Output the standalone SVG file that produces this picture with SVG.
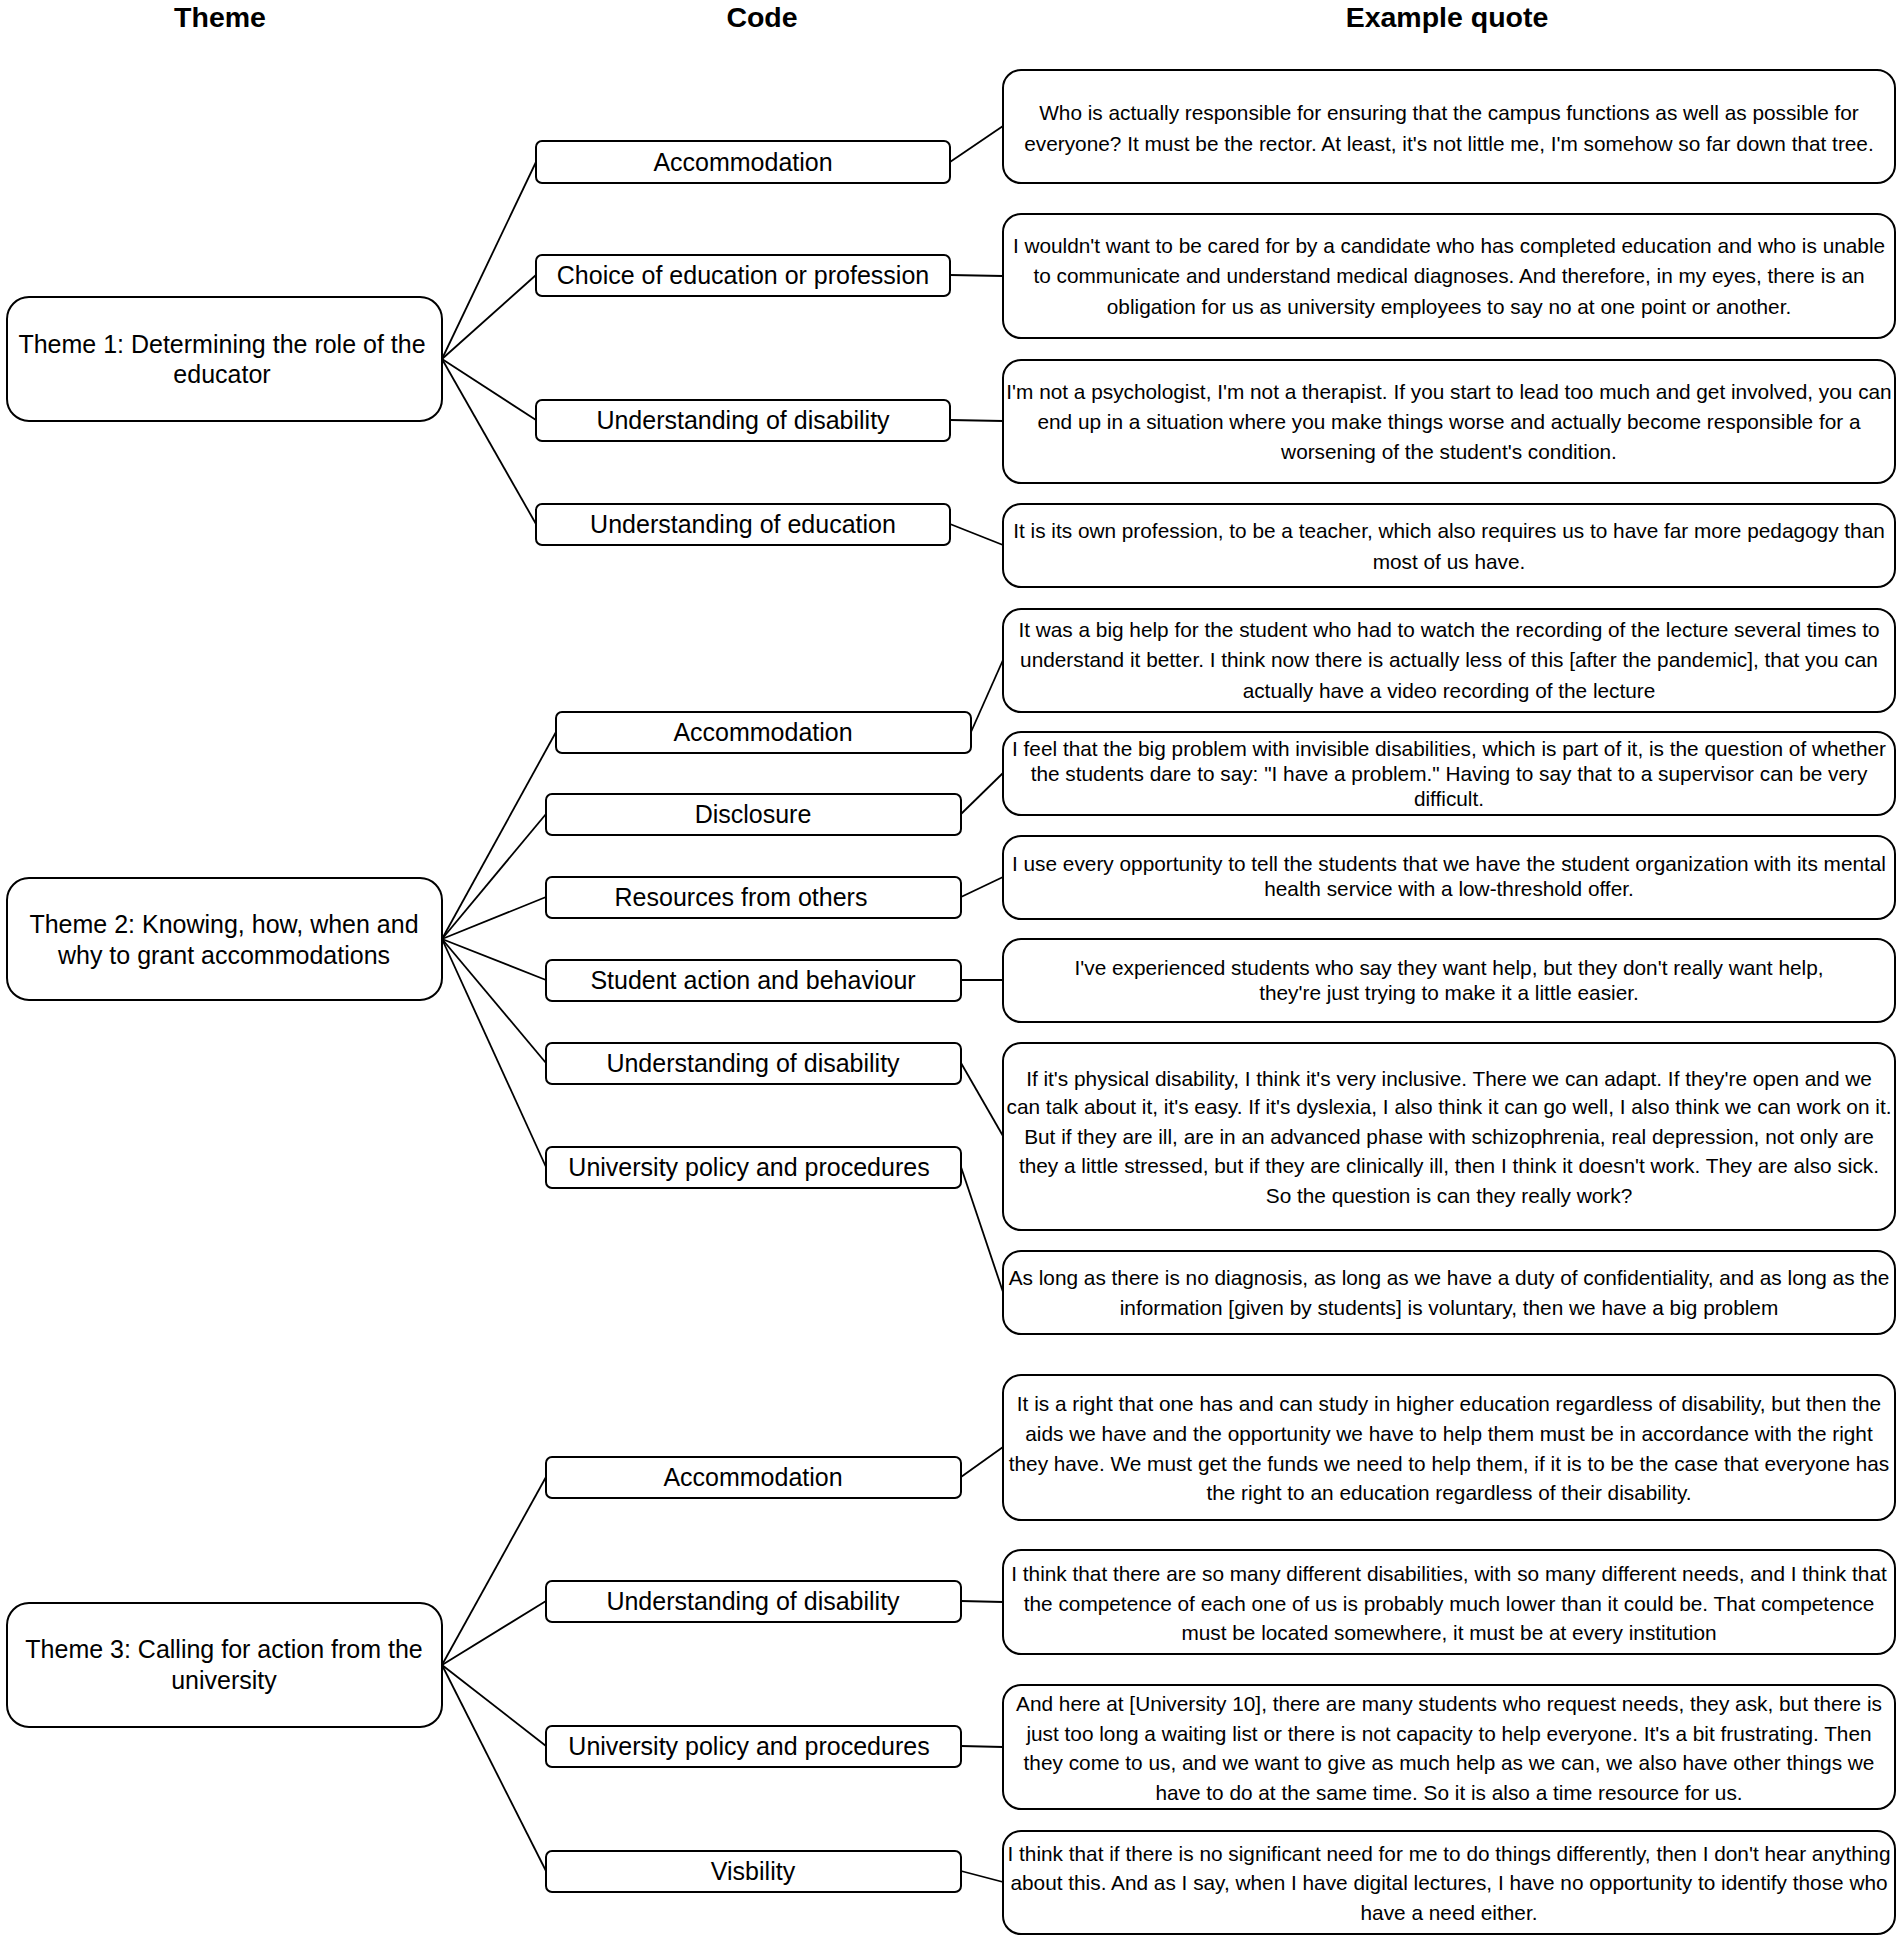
<svg xmlns="http://www.w3.org/2000/svg" width="1902" height="1943" viewBox="0 0 1902 1943">
<style>
text{font-family:"Liberation Sans",Arial,sans-serif;fill:#000;text-anchor:middle}
.hdr{font-size:28.5px;font-weight:bold}
.t{font-size:25px}
.c{font-size:25px}
.q{font-size:20.8px}
.tb{fill:#fff;stroke:#000;stroke-width:2}
.cb{fill:#fff;stroke:#000;stroke-width:2}
.qb{fill:#fff;stroke:#000;stroke-width:2}
.ln{stroke:#000;stroke-width:1.8;fill:none}
</style>
<rect width="1902" height="1943" fill="#fff"/>
<g id="headers">
<text class="hdr" x="220" y="27">Theme</text>
<text class="hdr" x="762" y="27">Code</text>
<text class="hdr" x="1447" y="27">Example quote</text>
</g>
<g id="connectors">
<line class="ln" x1="442" y1="359" x2="536" y2="162"/>
<line class="ln" x1="442" y1="359" x2="536" y2="275"/>
<line class="ln" x1="442" y1="359" x2="536" y2="420"/>
<line class="ln" x1="442" y1="359" x2="536" y2="524"/>
<line class="ln" x1="950" y1="162" x2="1003" y2="126"/>
<line class="ln" x1="950" y1="275" x2="1003" y2="276"/>
<line class="ln" x1="950" y1="420" x2="1003" y2="421"/>
<line class="ln" x1="950" y1="524" x2="1003" y2="545"/>
<line class="ln" x1="442" y1="939" x2="556" y2="732"/>
<line class="ln" x1="442" y1="939" x2="546" y2="814"/>
<line class="ln" x1="442" y1="939" x2="546" y2="897"/>
<line class="ln" x1="442" y1="939" x2="546" y2="980"/>
<line class="ln" x1="442" y1="939" x2="546" y2="1063"/>
<line class="ln" x1="442" y1="939" x2="546" y2="1167"/>
<line class="ln" x1="971" y1="732" x2="1003" y2="660"/>
<line class="ln" x1="961" y1="814" x2="1003" y2="773"/>
<line class="ln" x1="961" y1="897" x2="1003" y2="877"/>
<line class="ln" x1="961" y1="980" x2="1003" y2="980"/>
<line class="ln" x1="961" y1="1063" x2="1003" y2="1136"/>
<line class="ln" x1="961" y1="1167" x2="1003" y2="1292"/>
<line class="ln" x1="442" y1="1665" x2="546" y2="1477"/>
<line class="ln" x1="442" y1="1665" x2="546" y2="1601"/>
<line class="ln" x1="442" y1="1665" x2="546" y2="1746"/>
<line class="ln" x1="442" y1="1665" x2="546" y2="1871"/>
<line class="ln" x1="961" y1="1477" x2="1003" y2="1447"/>
<line class="ln" x1="961" y1="1601" x2="1003" y2="1602"/>
<line class="ln" x1="961" y1="1746" x2="1003" y2="1747"/>
<line class="ln" x1="961" y1="1871" x2="1003" y2="1882"/>
</g>
<g id="theme1"><rect class="tb" x="7" y="297" width="435" height="124" rx="22"/>
<text class="t" x="222" y="353">Theme 1: Determining the role of the</text>
<text class="t" x="222" y="383">educator</text></g>
<g id="theme2"><rect class="tb" x="7" y="878" width="435" height="122" rx="22"/>
<text class="t" x="224" y="933">Theme 2: Knowing, how, when and</text>
<text class="t" x="224" y="964">why to grant accommodations</text></g>
<g id="theme3"><rect class="tb" x="7" y="1603" width="435" height="124" rx="22"/>
<text class="t" x="224" y="1658">Theme 3: Calling for action from the</text>
<text class="t" x="224" y="1689">university</text></g>

<g id="code1a"><rect class="cb" x="536" y="141" width="414" height="42" rx="6"/><text class="c" x="743" y="171">Accommodation</text></g>
<g id="code1b"><rect class="cb" x="536" y="255" width="414" height="41" rx="6"/><text class="c" x="743" y="284">Choice of education or profession</text></g>
<g id="code1c"><rect class="cb" x="536" y="400" width="414" height="41" rx="6"/><text class="c" x="743" y="429">Understanding of disability</text></g>
<g id="code1d"><rect class="cb" x="536" y="504" width="414" height="41" rx="6"/><text class="c" x="743" y="533">Understanding of education</text></g>

<g id="code2a"><rect class="cb" x="556" y="712" width="415" height="41" rx="6"/><text class="c" x="763" y="741">Accommodation</text></g>
<g id="code2b"><rect class="cb" x="546" y="794" width="415" height="41" rx="6"/><text class="c" x="753" y="823">Disclosure</text></g>
<g id="code2c"><rect class="cb" x="546" y="877" width="415" height="41" rx="6"/><text class="c" x="741" y="906">Resources from others</text></g>
<g id="code2d"><rect class="cb" x="546" y="960" width="415" height="41" rx="6"/><text class="c" x="753" y="989">Student action and behaviour</text></g>
<g id="code2e"><rect class="cb" x="546" y="1043" width="415" height="41" rx="6"/><text class="c" x="753" y="1072">Understanding of disability</text></g>
<g id="code2f"><rect class="cb" x="546" y="1147" width="415" height="41" rx="6"/><text class="c" x="749" y="1176">University policy and procedures</text></g>

<g id="code3a"><rect class="cb" x="546" y="1457" width="415" height="41" rx="6"/><text class="c" x="753" y="1486">Accommodation</text></g>
<g id="code3b"><rect class="cb" x="546" y="1581" width="415" height="41" rx="6"/><text class="c" x="753" y="1610">Understanding of disability</text></g>
<g id="code3c"><rect class="cb" x="546" y="1726" width="415" height="41" rx="6"/><text class="c" x="749" y="1755">University policy and procedures</text></g>
<g id="code3d"><rect class="cb" x="546" y="1851" width="415" height="41" rx="6"/><text class="c" x="753" y="1880">Visbility</text></g>

<g id="q1"><rect class="qb" x="1003" y="70" width="892" height="113" rx="18"/>
<text class="q"><tspan x="1449" y="120">Who is actually responsible for ensuring that the campus functions as well as possible for</tspan><tspan x="1449" y="151">everyone? It must be the rector. At least, it's not little me, I'm somehow so far down that tree.</tspan></text></g>
<g id="q2"><rect class="qb" x="1003" y="214" width="892" height="124" rx="18"/>
<text class="q"><tspan x="1449" y="253">I wouldn't want to be cared for by a candidate who has completed education and who is unable</tspan><tspan x="1449" y="283">to communicate and understand medical diagnoses. And therefore, in my eyes, there is an</tspan><tspan x="1449" y="314">obligation for us as university employees to say no at one point or another.</tspan></text></g>
<g id="q3"><rect class="qb" x="1003" y="360" width="892" height="123" rx="18"/>
<text class="q"><tspan x="1449" y="399">I'm not a psychologist, I'm not a therapist. If you start to lead too much and get involved, you can</tspan><tspan x="1449" y="429">end up in a situation where you make things worse and actually become responsible for a</tspan><tspan x="1449" y="459">worsening of the student's condition.</tspan></text></g>
<g id="q4"><rect class="qb" x="1003" y="504" width="892" height="83" rx="18"/>
<text class="q"><tspan x="1449" y="538">It is its own profession, to be a teacher, which also requires us to have far more pedagogy than</tspan><tspan x="1449" y="569">most of us have.</tspan></text></g>
<g id="q5"><rect class="qb" x="1003" y="609" width="892" height="103" rx="18"/>
<text class="q"><tspan x="1449" y="637">It was a big help for the student who had to watch the recording of the lecture several times to</tspan><tspan x="1449" y="667">understand it better. I think now there is actually less of this [after the pandemic], that you can</tspan><tspan x="1449" y="698">actually have a video recording of the lecture</tspan></text></g>
<g id="q6"><rect class="qb" x="1003" y="732" width="892" height="83" rx="18"/>
<text class="q"><tspan x="1449" y="756">I feel that the big problem with invisible disabilities, which is part of it, is the question of whether</tspan><tspan x="1449" y="781">the students dare to say: &quot;I have a problem.&quot; Having to say that to a supervisor can be very</tspan><tspan x="1449" y="806">difficult.</tspan></text></g>
<g id="q7"><rect class="qb" x="1003" y="836" width="892" height="83" rx="18"/>
<text class="q"><tspan x="1449" y="871">I use every opportunity to tell the students that we have the student organization with its mental</tspan><tspan x="1449" y="896">health service with a low-threshold offer.</tspan></text></g>
<g id="q8"><rect class="qb" x="1003" y="939" width="892" height="83" rx="18"/>
<text class="q"><tspan x="1449" y="975">I've experienced students who say they want help, but they don't really want help,</tspan><tspan x="1449" y="1000">they're just trying to make it a little easier.</tspan></text></g>
<g id="q9"><rect class="qb" x="1003" y="1043" width="892" height="187" rx="18"/>
<text class="q"><tspan x="1449" y="1086">If it's physical disability, I think it's very inclusive. There we can adapt. If they're open and we</tspan><tspan x="1449" y="1114">can talk about it, it's easy. If it's dyslexia, I also think it can go well, I also think we can work on it.</tspan><tspan x="1449" y="1144">But if they are ill, are in an advanced phase with schizophrenia, real depression, not only are</tspan><tspan x="1449" y="1173">they a little stressed, but if they are clinically ill, then I think it doesn't work. They are also sick.</tspan><tspan x="1449" y="1203">So the question is can they really work?</tspan></text></g>
<g id="q10"><rect class="qb" x="1003" y="1251" width="892" height="83" rx="18"/>
<text class="q"><tspan x="1449" y="1285">As long as there is no diagnosis, as long as we have a duty of confidentiality, and as long as the</tspan><tspan x="1449" y="1315">information [given by students] is voluntary, then we have a big problem</tspan></text></g>
<g id="q11"><rect class="qb" x="1003" y="1375" width="892" height="145" rx="18"/>
<text class="q"><tspan x="1449" y="1411">It is a right that one has and can study in higher education regardless of disability, but then the</tspan><tspan x="1449" y="1441">aids we have and the opportunity we have to help them must be in accordance with the right</tspan><tspan x="1449" y="1471">they have. We must get the funds we need to help them, if it is to be the case that everyone has</tspan><tspan x="1449" y="1500">the right to an education regardless of their disability.</tspan></text></g>
<g id="q12"><rect class="qb" x="1003" y="1550" width="892" height="104" rx="18"/>
<text class="q"><tspan x="1449" y="1581">I think that there are so many different disabilities, with so many different needs, and I think that</tspan><tspan x="1449" y="1611">the competence of each one of us is probably much lower than it could be. That competence</tspan><tspan x="1449" y="1640">must be located somewhere, it must be at every institution</tspan></text></g>
<g id="q13"><rect class="qb" x="1003" y="1685" width="892" height="124" rx="18"/>
<text class="q"><tspan x="1449" y="1711">And here at [University 10], there are many students who request needs, they ask, but there is</tspan><tspan x="1449" y="1741">just too long a waiting list or there is not capacity to help everyone. It's a bit frustrating. Then</tspan><tspan x="1449" y="1770">they come to us, and we want to give as much help as we can, we also have other things we</tspan><tspan x="1449" y="1800">have to do at the same time. So it is also a time resource for us.</tspan></text></g>
<g id="q14"><rect class="qb" x="1003" y="1831" width="892" height="103" rx="18"/>
<text class="q"><tspan x="1449" y="1861">I think that if there is no significant need for me to do things differently, then I don't hear anything</tspan><tspan x="1449" y="1890">about this. And as I say, when I have digital lectures, I have no opportunity to identify those who</tspan><tspan x="1449" y="1920">have a need either.</tspan></text></g>
</svg>
